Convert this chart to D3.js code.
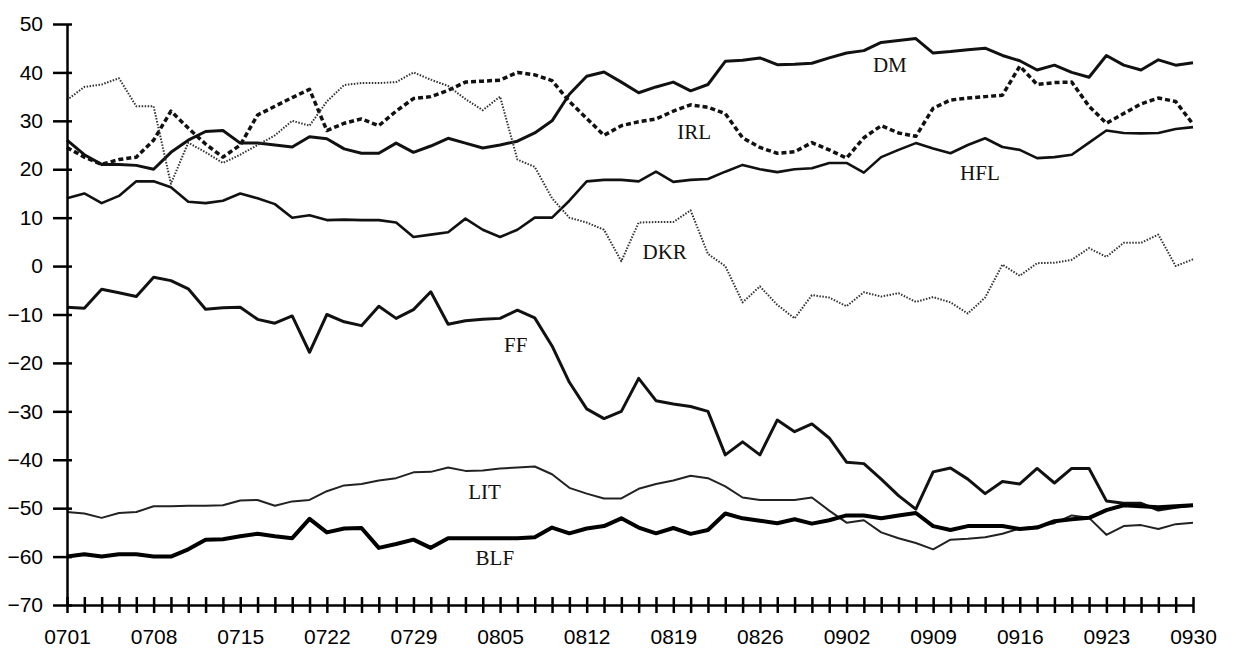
<!DOCTYPE html>
<html>
<head>
<meta charset="utf-8">
<script src="https://cdn.jsdelivr.net/npm/d3@7"></script>
<style>
  body { margin: 0; background: #fff; }
  svg { display: block; }
</style>
</head>
<body>
<svg id="chart" width="1236" height="650"></svg>
<script>
// trading days, 0701 .. 0930
var dates = ["0701","0702","0703","0704","0705","0708","0709","0710","0711","0712",
  "0715","0716","0717","0718","0719","0722","0723","0724","0725","0726",
  "0729","0730","0731","0801","0802","0805","0806","0807","0808","0809",
  "0812","0813","0814","0815","0816","0819","0820","0821","0822","0823",
  "0826","0827","0828","0829","0830","0902","0903","0904","0905","0906",
  "0909","0910","0911","0912","0913","0916","0917","0918","0919","0920",
  "0923","0924","0925","0926","0927","0930"];

var yTicks = [-70, -60, -50, -40, -30, -20, -10, 0, 10, 20, 30, 40, 50];

var DM = [26, 23, 21, 21, 20.8, 20, 23.5, 26, 27.8, 28,
  25.4, 25.4, 25, 24.6, 26.7, 26.3, 24.2, 23.3, 23.3, 25.4,
  23.5, 24.8, 26.4, 25.4, 24.4, 25, 25.8, 27.5, 30, 35.5,
  39.2, 40.1, 38, 35.8, 37, 38, 36.2, 37.5, 42.3, 42.5,
  43, 41.6, 41.7, 41.9, 43, 44, 44.5, 46.2, 46.6, 47,
  44, 44.3, 44.7, 45, 43.5, 42.4, 40.5, 41.5, 40, 39,
  43.5, 41.5, 40.5, 42.6, 41.5, 42];

var IRL = [24.5, 22.5, 21, 22, 22.5, 26, 32, 28.5, 25.2, 22.5,
  25, 31.2, 33, 34.8, 36.5, 28, 29.5, 30.4, 29, 32,
  34.6, 35, 36.3, 38, 38.2, 38.4, 40, 39.5, 38.3, 34,
  30.5, 27, 29, 29.8, 30.4, 32, 33.3, 32.8, 31.5, 26.5,
  24.5, 23.3, 23.6, 25.5, 24, 22.3, 26.5, 29, 27.5, 26.8,
  32.6, 34.3, 34.7, 35, 35.3, 41.3, 37.5, 37.9, 38, 33,
  29.5, 31.5, 33.5, 34.7, 34, 29.3];

var HFL = [14, 15, 13, 14.5, 17.5, 17.5, 16.3, 13.3, 13, 13.5,
  15, 14, 12.8, 10, 10.5, 9.5, 9.6, 9.5, 9.5, 9,
  6, 6.5, 7, 9.8, 7.5, 6, 7.5, 10, 10, 13.5,
  17.5, 17.8, 17.8, 17.5, 19.5, 17.4, 17.8, 18, 19.5, 20.9,
  20, 19.4, 20, 20.2, 21.3, 21.3, 19.3, 22.5, 24, 25.4,
  24.3, 23.3, 25, 26.4, 24.6, 24, 22.3, 22.5, 23, 25.5,
  28, 27.5, 27.4, 27.5, 28.3, 28.7];

var DKR = [34.3, 37, 37.5, 38.8, 33, 33, 17, 25.5, 23.5, 21.3,
  23, 25, 27, 30, 29, 34, 37.4, 37.8, 37.8, 38,
  40, 38.5, 37.2, 34.5, 32.2, 35, 22, 20.5, 14, 10,
  9, 7.5, 1, 9, 9.1, 9.1, 11.5, 2.5, 0, -7.5,
  -4.2, -8, -10.8, -6, -6.5, -8.3, -5.4, -6.3, -5.6, -7.4,
  -6.4, -7.5, -9.8, -6.5, 0.3, -2, 0.6, 0.7, 1.3, 3.7,
  1.9, 4.8, 4.8, 6.5, 0, 1.4];

var FF = [-8.5, -8.7, -4.8, -5.5, -6.3, -2.3, -3, -4.7, -8.9, -8.6,
  -8.5, -11, -11.8, -10.3, -17.8, -10, -11.5, -12.3, -8.3, -10.8,
  -9, -5.3, -12, -11.3, -11, -10.8, -9.1, -10.7, -16.5, -24,
  -29.5, -31.5, -30, -23.2, -27.8, -28.5, -29, -30, -39, -36.3,
  -39, -31.8, -34.2, -32.6, -35.5, -40.5, -40.8, -44, -47.4, -50.2,
  -42.5, -41.7, -44, -47, -44.5, -45, -41.8, -44.8, -41.8, -41.8,
  -48.5, -49, -49, -50.4, -49.8, -49.4];

var LIT = [-50.8, -51.1, -52, -51, -50.8, -49.6, -49.6, -49.5, -49.5, -49.4,
  -48.4, -48.3, -49.5, -48.6, -48.3, -46.5, -45.3, -45, -44.3, -43.8,
  -42.6, -42.5, -41.6, -42.3, -42.2, -41.8, -41.6, -41.4, -43, -45.8,
  -47, -48, -48, -46, -45, -44.3, -43.3, -43.8, -45.5, -47.8,
  -48.3, -48.3, -48.3, -47.8, -50.5, -53, -52.5, -55, -56.2, -57.2,
  -58.5, -56.5, -56.3, -56, -55.3, -54.2, -53.8, -53.1, -51.5, -52,
  -55.5, -53.7, -53.5, -54.3, -53.3, -53];

var BLF = [-60, -59.5, -60, -59.5, -59.5, -60, -60, -58.5, -56.5, -56.4,
  -55.8, -55.3, -55.8, -56.2, -52.2, -55, -54.2, -54.1, -58.2, -57.4,
  -56.5, -58.2, -56.2, -56.2, -56.2, -56.2, -56.2, -56, -54, -55.2,
  -54.2, -53.7, -52.1, -54, -55.2, -54.1, -55.3, -54.5, -51.1, -52.1,
  -52.6, -53.1, -52.3, -53.2, -52.5, -51.5, -51.5, -52.1, -51.5, -51,
  -53.7, -54.5, -53.7, -53.7, -53.7, -54.3, -54, -52.7, -52.3, -52,
  -50.4, -49.4, -49.6, -49.8, -49.6, -49.4];

// series name tags: the trading day (plus a part of a day) and value where each sits
var tagNames = ["DM", "IRL", "HFL", "DKR", "FF", "LIT", "BLF"];
var tagDates = ["0904", "0820", "0911", "0816", "0806", "0802", "0805"];
var tagDayPart = [0.5, 0.2, 0.7, 0.5, -0.1, 0.1, -0.3];
var tagValues = [41.7, 27.7, 19.4, 2.9, -16.3, -46.5, -60.3];

var svg = d3.select("#chart"),
    margin = { top: 24, right: 43, bottom: 45, left: 67 },
    width = +svg.attr("width") - margin.left - margin.right,
    height = +svg.attr("height") - margin.top - margin.bottom,
    g = svg.append("g").attr("transform", "translate(" + margin.left + "," + margin.top + ")");

var x = d3.scalePoint()
    .domain(dates)
    .range([0, width]);

var y = d3.scaleLinear()
    .domain([-70, 50])
    .range([height, 0]);

var series = [
  { name: "DM",  values: DM,  stroke: "#111", width: 3,   dash: null },
  { name: "IRL", values: IRL, stroke: "#111", width: 3.5, dash: "5,3" },
  { name: "HFL", values: HFL, stroke: "#111", width: 2.6, dash: null },
  { name: "DKR", values: DKR, stroke: "#333", width: 2,   dash: "1.5,1.5" },
  { name: "FF",  values: FF,  stroke: "#111", width: 3,   dash: null },
  { name: "LIT", values: LIT, stroke: "#222", width: 2,   dash: null },
  { name: "BLF", values: BLF, stroke: "#000", width: 4,   dash: null }
];

var line = d3.line()
    .x(function (d, i) { return x(dates[i]); })
    .y(function (d) { return y(d); });

g.append("g")
    .selectAll("path")
    .data(series)
    .enter().append("path")
    .attr("fill", "none")
    .attr("stroke", function (d) { return d.stroke; })
    .attr("stroke-width", function (d) { return d.width; })
    .attr("stroke-dasharray", function (d) { return d.dash; })
    .attr("stroke-linejoin", "round")
    .attr("d", function (d) { return line(d.values); });

// y axis
var yAxis = g.append("g")
    .call(d3.axisLeft(y).tickValues(yTicks).tickSizeOuter(0).tickSizeInner(14).tickPadding(10));

yAxis.select(".domain").attr("stroke", "#000").attr("stroke-width", 2.5);
yAxis.selectAll(".tick line").attr("x2", -14).attr("x1", 5).attr("stroke-width", 2.5);
yAxis.selectAll(".tick text")
    .attr("x", -24)
    .attr("font-family", "Liberation Sans, Arial, sans-serif")
    .attr("font-size", 21)
    .attr("fill", "#000");

// x axis: a tick per trading day, every fifth one labelled
var xAxis = g.append("g")
    .attr("transform", "translate(0," + height + ")")
    .call(d3.axisBottom(x)
        .tickSizeOuter(0)
        .tickSizeInner(7)
        .tickFormat(function (d, i) { return i % 5 === 0 ? d : ""; }));

xAxis.select(".domain").attr("stroke", "#000").attr("stroke-width", 2.5);
xAxis.selectAll(".tick line").attr("y1", -8).attr("y2", 8).attr("stroke-width", 2.5);
xAxis.selectAll(".tick text")
    .attr("y", 24)
    .attr("font-family", "Liberation Sans, Arial, sans-serif")
    .attr("font-size", 21)
    .attr("fill", "#000");

// series tags
g.append("g")
    .selectAll("text")
    .data(tagNames)
    .enter().append("text")
    .attr("x", function (d, i) { return x(tagDates[i]) + tagDayPart[i] * x.step(); })
    .attr("y", function (d, i) { return y(tagValues[i]); })
    .attr("dy", "0.35em")
    .attr("text-anchor", "middle")
    .attr("font-family", "Liberation Serif, Times New Roman, serif")
    .attr("font-size", 21)
    .attr("fill", "#111")
    .text(function (d) { return d; });
</script>
</body>
</html>
